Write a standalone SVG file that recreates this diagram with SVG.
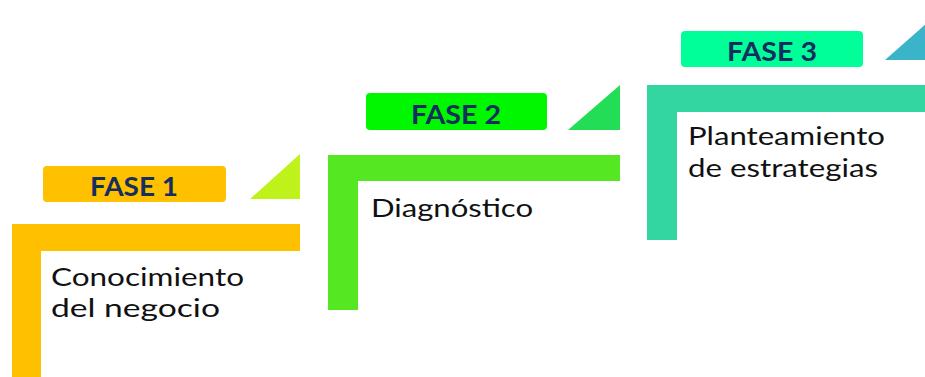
<svg xmlns="http://www.w3.org/2000/svg" width="925" height="377" viewBox="0 0 925 377">
<style>
.lbl{font-family:Lato,"Open Sans","Liberation Sans",sans-serif;font-weight:bold;font-size:26px;fill:#142F5E;text-anchor:middle}
.txt{font-family:Lato,"Liberation Sans",sans-serif;font-size:25.5px;fill:#111111}
</style>
<rect width="925" height="377" fill="#ffffff"/>
<g id="fase1">
<rect x="43" y="166" width="183" height="36" rx="4" fill="#FFC000"/>
<text class="lbl" x="134" y="196" textLength="88" lengthAdjust="spacingAndGlyphs">FASE 1</text>
<polygon points="250,199 300,154 300,199" fill="#BEF21A"/>
<path d="M12,224 H300 V251 H41 V377 H12 Z" fill="#FFC000"/>
<text class="txt" x="51" y="286" textLength="193" lengthAdjust="spacingAndGlyphs">Conocimiento</text>
<text class="txt" x="51" y="317" textLength="169" lengthAdjust="spacingAndGlyphs">del negocio</text>
</g>
<g id="fase2">
<rect x="366" y="93" width="181" height="37" rx="4" fill="#00F700"/>
<text class="lbl" x="456" y="124" textLength="90" lengthAdjust="spacingAndGlyphs">FASE 2</text>
<polygon points="568,130 620,85 620,130" fill="#22DD55"/>
<path d="M328,155 H620 V181 H358 V310 H328 Z" fill="#55E822"/>
<text class="txt" x="371" y="217" textLength="162" lengthAdjust="spacingAndGlyphs">Diagnóstico</text>
</g>
<g id="fase3">
<rect x="681" y="31" width="182" height="36" rx="4" fill="#00FF99"/>
<text class="lbl" x="772" y="61" textLength="90" lengthAdjust="spacingAndGlyphs">FASE 3</text>
<polygon points="885,60 936,15 936,60" fill="#3BB3C8"/>
<path d="M647,85 H925 V112 H677 V240 H647 Z" fill="#33D6A0"/>
<text class="txt" x="688" y="145" textLength="197" lengthAdjust="spacingAndGlyphs">Planteamiento</text>
<text class="txt" x="688" y="177" textLength="190" lengthAdjust="spacingAndGlyphs">de estrategias</text>
</g>
<g id="connectors"></g>
</svg>
